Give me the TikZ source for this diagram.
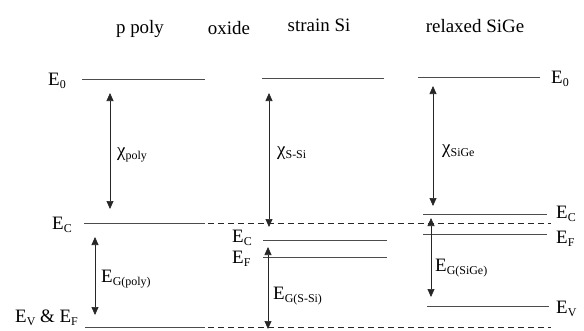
\documentclass[tikz,border=0pt]{standalone}
\usepackage{fontspec}
\setmainfont{Liberation Serif}
\usetikzlibrary{arrows.meta}
\newcommand{\lsub}[1]{\raisebox{-3bp}{\fontsize{12}{12}\selectfont #1}}
\begin{document}
\begin{tikzpicture}[x=1bp,y=-1bp,
 lvl/.style={draw=black!70, line width=0.7bp},
 dsh/.style={draw=black!85, line width=0.7bp, dash pattern=on 6bp off 4bp},
 arr/.style={draw=black!85, line width=0.7bp, {Triangle[width=7bp,length=8bp]}-{Triangle[width=7bp,length=8bp]}},
 lbl/.style={anchor=base west, inner sep=0pt, font=\fontsize{19}{22}\selectfont},
 ttl/.style={anchor=base, inner sep=0pt, font=\fontsize{19}{22}\selectfont}]
\useasboundingbox (0,0) rectangle (584,330);
% titles
\node[ttl] (tpoly) at (140,33) {p poly};
\node[ttl] (tox) at (229,34) {oxide};
\node[ttl] (tssi) at (319,31) {strain Si};
\node[ttl] (tsige) at (475,32) {relaxed SiGe};
% level coordinates
\coordinate (p0a) at (82,79); \coordinate (p0b) at (205,79);
\coordinate (s0a) at (262,78); \coordinate (s0b) at (384,78);
\coordinate (g0a) at (418,77); \coordinate (g0b) at (540,77);
\coordinate (pca) at (84,223); \coordinate (pcb) at (205,223); \coordinate (dce) at (551,223);
\coordinate (sca) at (263,240); \coordinate (scb) at (387,240);
\coordinate (sfa) at (263,257); \coordinate (sfb) at (387,257);
\coordinate (gca) at (423,214); \coordinate (gcb) at (547,214);
\coordinate (gfa) at (423,234); \coordinate (gfb) at (547,234);
\coordinate (gva) at (427,306); \coordinate (gvb) at (549,306);
\coordinate (pva) at (85,327); \coordinate (pvb) at (205,327); \coordinate (dve) at (551,327);
% levels
\draw[lvl] (p0a) -- (p0b);
\draw[lvl] (s0a) -- (s0b);
\draw[lvl] (g0a) -- (g0b);
\draw[lvl] (pca) -- (pcb);
\draw[dsh, dash phase=-3bp] (pcb) -- (dce);
\draw[lvl] (sca) -- (scb);
\draw[lvl] (sfa) -- (sfb);
\draw[lvl] (gca) -- (gcb);
\draw[lvl] (gfa) -- (gfb);
\draw[lvl] (gva) -- (gvb);
\draw[lvl] (pva) -- (pvb);
\draw[dsh, dash phase=-3bp] (pvb) -- (dve);
% arrows
\coordinate (a1t) at (110,93); \coordinate (a1b) at (110,209);
\coordinate (a2t) at (269,93); \coordinate (a2b) at (269,227);
\coordinate (a3t) at (433,86); \coordinate (a3b) at (433,206);
\coordinate (b1t) at (95,237); \coordinate (b1b) at (95,315);
\coordinate (b2t) at (268,247); \coordinate (b2b) at (268,329);
\coordinate (b3t) at (431,218); \coordinate (b3b) at (431,297);
\draw[arr] (a1t) -- (a1b);
\draw[arr] (a2t) -- (a2b);
\draw[arr] (a3t) -- (a3b);
\draw[arr] (b1t) -- (b1b);
\draw[arr] (b2t) -- (b2b);
\draw[arr] (b3t) -- (b3b);
% labels
\node[lbl] (le0) at (48,85) {E\lsub{0}};
\node[lbl] (re0) at (551,83) {E\lsub{0}};
\node[lbl] (lec) at (52,229) {E\lsub{C}};
\node[lbl] (sec) at (232,242) {E\lsub{C}};
\node[lbl] (sef) at (232,263) {E\lsub{F}};
\node[lbl] (rec) at (556,218) {E\lsub{C}};
\node[lbl] (ref) at (556,243) {E\lsub{F}};
\node[lbl] (rev) at (556,313) {E\lsub{V}};
\node[lbl] (lev) at (15,322) {E\lsub{V} \& E\lsub{F}};
\node[lbl] (chip) at (117,156) {χ\lsub{poly}};
\node[lbl] (chis) at (277,155) {χ\lsub{S-Si}};
\node[lbl] (chig) at (442,153) {χ\lsub{SiGe}};
\node[lbl] (egp) at (101,282) {E\lsub{G(poly)}};
\node[lbl] (egs) at (273,299) {E\lsub{G(S-Si)}};
\node[lbl] (egg) at (435,271) {E\lsub{G(SiGe)}};
\end{tikzpicture}
\end{document}
